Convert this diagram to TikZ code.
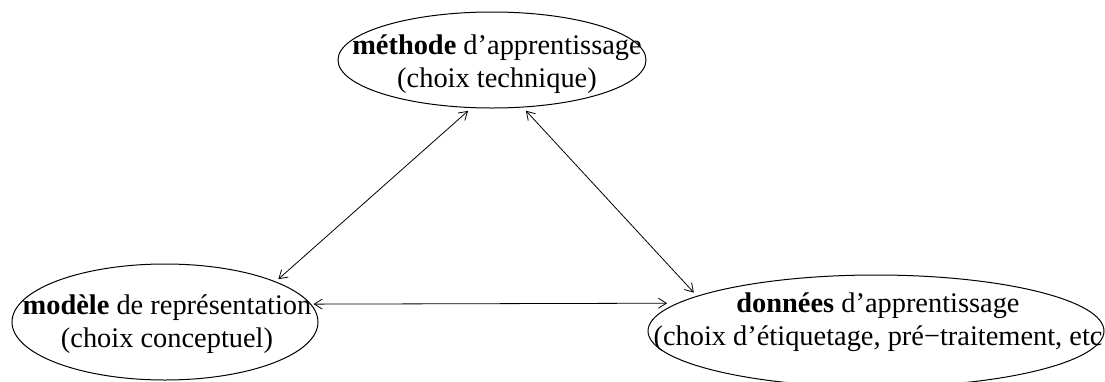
\documentclass[tikz,border=0pt]{standalone}
\usepackage{fontspec}
\setmainfont{Liberation Serif}
\usetikzlibrary{shapes.geometric,arrows.meta}

\begin{document}
\begin{tikzpicture}[x=50pt, y=-50pt,
    bulle/.style={draw, ellipse, inner sep=0pt, outer sep=0pt, line width=0.5pt},
    texte/.style={align=center, inner sep=0pt, font=\fontsize{14.2}{16.5}\selectfont},
    fleche/.style={{Straight Barb[length=4pt,width=5pt]}-{Straight Barb[length=4pt,width=5pt]}, line width=0.4pt}]

    \useasboundingbox (0, 0) rectangle (11.05, 3.81);

    \node [bulle, minimum width=154pt, minimum height=48pt] (meth) at (4.92, 0.60) {};
    \node [bulle, minimum width=153pt, minimum height=58pt] (mod) at (1.65, 3.22) {};
    \node [bulle, minimum width=228pt, minimum height=56pt] (don) at (8.76, 3.31) {};

    \node [texte] (methtxt) at (4.97, 0.645) {\textbf{méthode} d'apprentissage\\(choix technique)};
    \node [texte] (modtxt) at (1.67, 3.245) {\textbf{modèle} de représentation\\(choix conceptuel)};
    \node [texte] (dontxt) at (8.78, 3.225) {\textbf{données} d'apprentissage\\(choix d'étiquetage, pré−traitement, etc};

    \draw [fleche, shorten <=2pt, shorten >=2.5pt] (mod.20) to (meth.247);
    \draw [fleche, shorten <=2.5pt, shorten >=2.5pt] (meth.303) to (don.169);
    \draw [fleche, shorten <=1.5pt, shorten >=5.5pt] (mod.7) to (don.172);

\end{tikzpicture}
\end{document}
